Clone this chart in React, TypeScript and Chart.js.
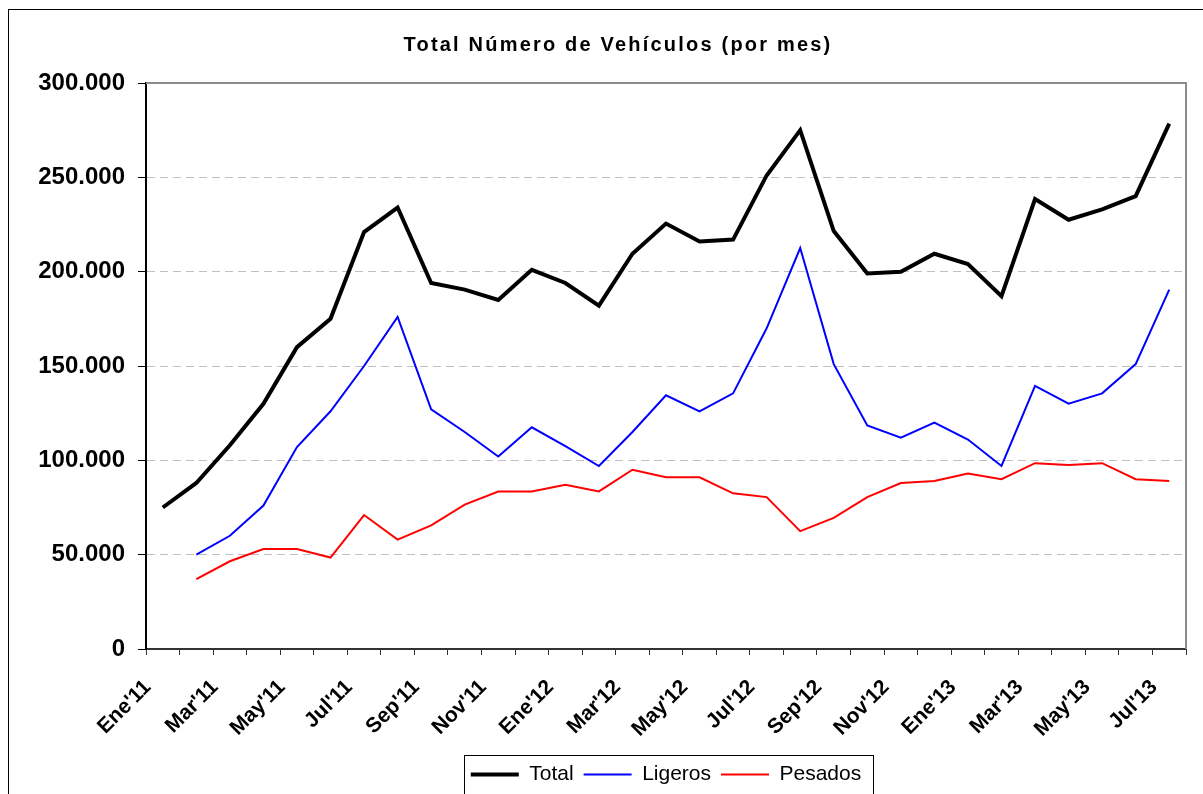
import React, { useEffect, useRef } from "react";
import { Chart, registerables } from "chart.js";

Chart.register(...registerables);

const TITLE = "Total Número de Vehículos (por mes)";

const months = [
  "Ene'11", "Feb'11", "Mar'11", "Abr'11", "May'11", "Jun'11", "Jul'11", "Ago'11", "Sep'11", "Oct'11", "Nov'11", "Dic'11",
  "Ene'12", "Feb'12", "Mar'12", "Abr'12", "May'12", "Jun'12", "Jul'12", "Ago'12", "Sep'12", "Oct'12", "Nov'12", "Dic'12",
  "Ene'13", "Feb'13", "Mar'13", "Abr'13", "May'13", "Jun'13", "Jul'13",
];

const total = [
  75000, 88000, 108000, 130000, 160000, 175000, 221000, 234000, 194000, 190500, 185000, 201000,
  194000, 182000, 209500, 225500, 216000, 217000, 251000, 275000, 221500, 199000, 200000, 209500,
  204000, 187000, 238500, 227500, 233000, 240000, 278500,
];

const ligeros = [
  null, 50000, 60000, 76000, 107000, 126000, 150000, 176000, 127000, 115000, 102000, 117500,
  107500, 97000, 115000, 134500, 126000, 135500, 170000, 212500, 151000, 118500, 112000, 120000,
  111000, 97000, 139500, 130000, 135500, 151000, 190500,
];

const pesados = [
  null, 37000, 46500, 53000, 53000, 48500, 71000, 58000, 65500, 76500, 83500, 83500,
  87000, 83500, 95000, 91000, 91000, 82500, 80500, 62500, 69500, 80500, 88000, 89000,
  93000, 90000, 98500, 97500, 98500, 90000, 89000,
];

const yTicks = [0, 50000, 100000, 150000, 200000, 250000, 300000];

const FONT = '"Liberation Sans", Arial, Helvetica, sans-serif';

function fmt(v: number): string {
  return String(Math.round(v)).replace(/\B(?=(\d{3})+(?!\d))/g, ".");
}

const CW = 1218;
const CH = 800;

export default function App() {
  const ref = useRef<HTMLCanvasElement>(null);

  useEffect(() => {
    const canvas = ref.current;
    if (!canvas) return;

    const decor = {
      id: "decor",
      afterDraw(chart: any) {
        const { ctx, chartArea: a } = chart;
        ctx.save();
        // top and right plot border
        ctx.strokeStyle = "#8c8c8c";
        ctx.lineWidth = 2;
        ctx.beginPath();
        ctx.moveTo(a.left, a.top);
        ctx.lineTo(a.right, a.top);
        ctx.lineTo(a.right, a.bottom);
        ctx.stroke();

        // title
        ctx.fillStyle = "#000";
        ctx.font = `bold 20px ${FONT}`;
        (ctx as any).letterSpacing = "2.2px";
        ctx.textAlign = "center";
        ctx.textBaseline = "alphabetic";
        ctx.fillText(TITLE, 618, 51);
        (ctx as any).letterSpacing = "0px";

        // legend frame
        const lg = chart.legend;
        const hb = lg && lg.legendHitBoxes;
        if (hb && hb.length) {
          const first = hb[0];
          const last = hb[hb.length - 1];
          const l = Math.round(first.left - 7) + 0.5;
          const r = Math.round(last.left + last.width + 12) + 0.5;
          const t = Math.round(lg.top + 1) + 0.5;
          const b = CH + 10;
          ctx.strokeStyle = "#000";
          ctx.lineWidth = 1;
          ctx.strokeRect(l, t, r - l, b - t);
        }
        ctx.restore();
      },
    };

    const chart = new Chart(canvas, {
      type: "line",
      data: {
        labels: months,
        datasets: [
          {
            label: "Total",
            data: total,
            borderColor: "#000000",
            backgroundColor: "#000000",
            borderWidth: 4,
            pointRadius: 0,
            tension: 0,
          },
          {
            label: "Ligeros",
            data: ligeros,
            borderColor: "#0000ff",
            backgroundColor: "#0000ff",
            borderWidth: 2,
            pointRadius: 0,
            tension: 0,
          },
          {
            label: "Pesados",
            data: pesados,
            borderColor: "#ff0000",
            backgroundColor: "#ff0000",
            borderWidth: 2,
            pointRadius: 0,
            tension: 0,
          },
        ],
      },
      options: {
        responsive: false,
        animation: false,
        devicePixelRatio: 1,
        layout: { padding: { left: 0, right: CW - 1186, top: 83, bottom: 5 } },
        plugins: {
          title: { display: false },
          tooltip: { enabled: false },
          legend: {
            position: "bottom",
            fullSize: false,
            labels: {
              usePointStyle: true,
              pointStyle: "line",
              pointStyleWidth: 48,
              color: "#000",
              padding: 10,
              font: { family: FONT, size: 21 },
            },
          },
        },
        scales: {
          x: {
            type: "category",
            offset: true,
            grid: {
              display: true,
              drawOnChartArea: false,
              drawTicks: true,
              tickLength: 6,
              offset: true,
              color: "#333",
              tickColor: "#333",
              lineWidth: 1,
            },
            border: { display: true, color: "#333", width: 2 },
            ticks: {
              autoSkip: false,
              maxRotation: 45,
              minRotation: 45,
              color: "#000",
              padding: 20,
              labelOffset: -15,
              font: { family: FONT, size: 21, weight: "bold" },
              callback: (_v: any, i: number) => (i % 2 === 0 ? months[i] : ""),
            },
            afterFit: (s: any) => {
              s.height = 105;
            },
          },
          y: {
            type: "linear",
            min: yTicks[0],
            max: yTicks[yTicks.length - 1],
            afterBuildTicks: (s: any) => {
              s.ticks = yTicks.map((v) => ({ value: v }));
            },
            grid: {
              display: true,
              drawOnChartArea: true,
              drawTicks: true,
              tickLength: 8,
              color: "#c0c0c0",
              tickColor: "#000",
              lineWidth: 1,
              tickWidth: 1,
              tickBorderDash: [],
            },
            border: { display: true, color: "#000", width: 2, dash: [8, 5] },
            ticks: {
              color: "#000",
              padding: 13,
              font: { family: FONT, size: 24, weight: "bold" },
              callback: (v: any) => fmt(Number(v)),
            },
            afterFit: (s: any) => {
              s.width = 146;
            },
          },
        },
      },
      plugins: [decor],
    });

    return () => chart.destroy();
  }, []);

  return (
    <div
      style={{
        position: "fixed",
        left: 0,
        top: 0,
        width: 1203,
        height: 794,
        overflow: "hidden",
        background: "#fff",
      }}
    >
      <div
        style={{
          position: "absolute",
          left: 8,
          top: 9,
          width: 1300,
          height: 900,
          border: "1px solid #000",
        }}
      />
      <canvas
        ref={ref}
        width={CW}
        height={CH}
        style={{ position: "absolute", left: 0, top: 0, width: CW, height: CH }}
      />
    </div>
  );
}
